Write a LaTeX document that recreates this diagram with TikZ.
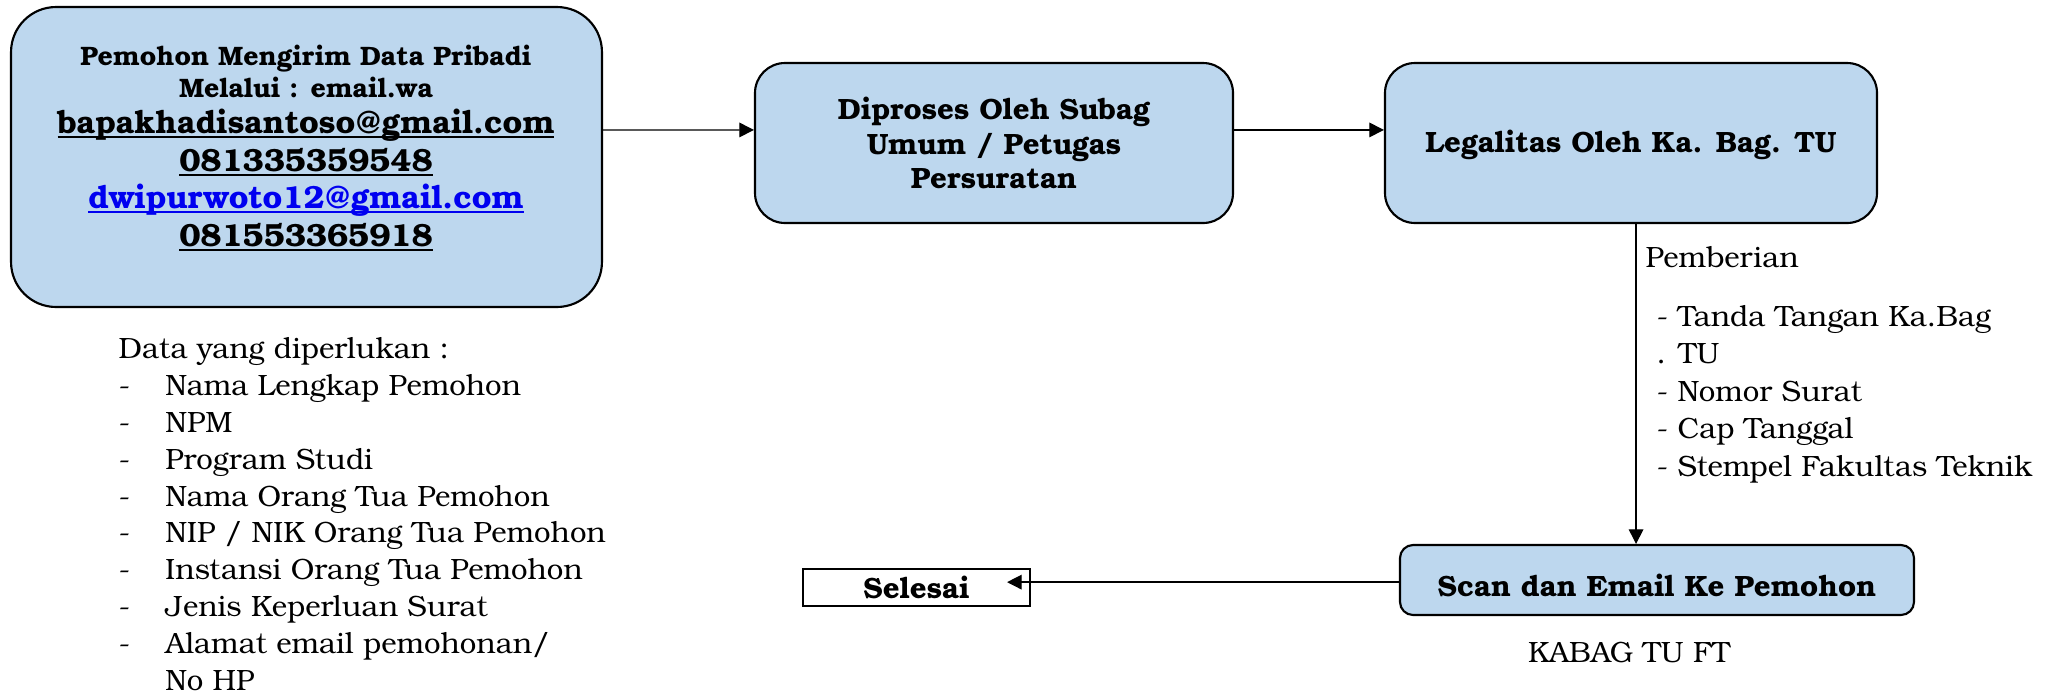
\documentclass[tikz,border=0pt]{standalone}
\usepackage{fontspec}
\setmainfont{texgyrebonum}[Extension=.otf,UprightFont=*-regular,BoldFont=*-bold,ItalicFont=*-italic,BoldItalicFont=*-bolditalic]
\usetikzlibrary{arrows.meta,calc}
\definecolor{boxblue}{HTML}{BDD7EE}
\definecolor{linkblue}{RGB}{0,0,240}
\newcommand{\myul}[1]{\setbox0\hbox{#1}\rlap{\rule[-1.8pt]{\wd0}{0.8pt}}\box0}
\newcommand{\smallbf}{\fontsize{10}{12}\selectfont\bfseries}
\tikzset{
  proc/.style={draw, line width=0.8pt, fill=boxblue, align=center, inner sep=0pt,
    font=\fontsize{11}{12}\selectfont\bfseries},
  arr/.style={line width=0.5pt, -{Triangle[length=5.5pt,width=5.5pt]}},
  plaintext/.style={inner sep=0pt, align=left, font=\fontsize{11}{13.8}\selectfont},
}
\begin{document}
\begin{tikzpicture}[x=0.375pt,y=-0.375pt]
\useasboundingbox (0,0) rectangle (2058,694);
% boxes
\node[proc, minimum width=221.6pt, minimum height=112.5pt, rounded corners=16.9pt] (box1) at (306.5,157) {};
\node[align=center, inner sep=0pt, font=\fontsize{12}{14.1}\selectfont\bfseries] (t1) at (306,148)
  {\smallbf Pemohon Mengirim Data Pribadi\\[-2.1pt]
   \smallbf Melalui : email.wa\\[-0.6pt]
   \myul{bapakhadisantoso@gmail.com}\\
   \myul{081335359548}\\
   \textcolor{linkblue}{\myul{dwipurwoto12@gmail.com}}\\
   \myul{081553365918}};
\node[proc, minimum width=179.25pt, minimum height=60pt, rounded corners=11.25pt,
  font=\fontsize{11}{13}\selectfont\bfseries, text depth=0pt] (box2) at (994,143)
  {Diproses Oleh Subag\\Umum / Petugas\\Persuratan};
\node[proc, minimum width=184.5pt, minimum height=60pt, rounded corners=11.25pt,
  text height=6.75pt, text depth=0pt] (box3) at (1631,143)
  {Legalitas Oleh Ka. Bag. TU};
\node[proc, minimum width=192.75pt, minimum height=26.25pt, rounded corners=4.9pt,
  text height=12pt, text depth=0pt] (box4) at (1657,580)
  {Scan dan Email Ke Pemohon};
\node[draw, line width=0.8pt, fill=white, inner sep=0pt, minimum width=85.1pt, minimum height=13.9pt,
  font=\fontsize{11}{12}\selectfont\bfseries] (sel) at (916.5,587.5) {Selesai};
\coordinate (seltip) at ([xshift=-9pt]sel.east);
% connectors
\draw[arr] ([yshift=10.1pt]box1.east) -- ([yshift=4.9pt]box2.west);
\draw[arr] ([yshift=4.9pt]box2.east) -- ([yshift=4.9pt]box3.west);
\draw[arr] ([xshift=1.9pt]box3.south) -- ([xshift=1.9pt]box3.south |- box4.north);
\draw[arr] ([yshift=-0.8pt]box4.west) -- ([yshift=-0.8pt]box4.west -| seltip);
% texts
\node[plaintext, anchor=base west] (pemb) at (1645,267) {Pemberian};
\node[plaintext, anchor=base west, font=\fontsize{11}{14.05}\selectfont] (legal) at (1656,476)
  {- Tanda Tangan Ka.Bag\\. TU\\- Nomor Surat\\- Cap Tanggal\\- Stempel Fakultas Teknik};
\node[plaintext, anchor=base] (kabag) at (1629,662) {KABAG TU FT};
\node[plaintext, anchor=base west] (data) at (118,690)
  {Data yang diperlukan :\\
   \makebox[17.6pt][l]{-}Nama Lengkap Pemohon\\
   \makebox[17.6pt][l]{-}NPM\\
   \makebox[17.6pt][l]{-}Program Studi\\
   \makebox[17.6pt][l]{-}Nama Orang Tua Pemohon\\
   \makebox[17.6pt][l]{-}NIP / NIK Orang Tua Pemohon\\
   \makebox[17.6pt][l]{-}Instansi Orang Tua Pemohon\\
   \makebox[17.6pt][l]{-}Jenis Keperluan Surat\\
   \makebox[17.6pt][l]{-}Alamat email pemohonan/\\
   \makebox[17.6pt][l]{}No HP};
\end{tikzpicture}
\end{document}
